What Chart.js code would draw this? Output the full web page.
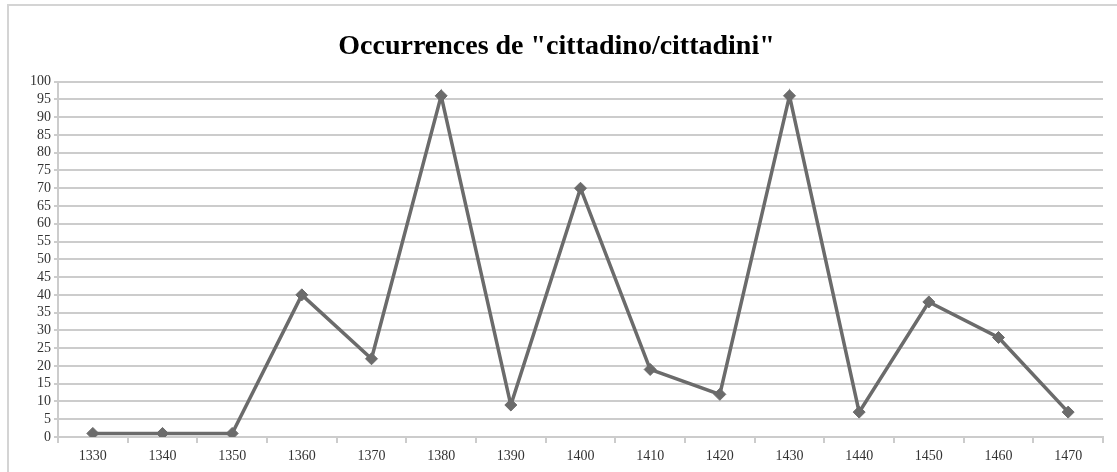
<!DOCTYPE html>
<html>
<head>
<meta charset="utf-8">
<script src="https://cdn.jsdelivr.net/npm/chart.js@4/dist/chart.umd.min.js"></script>
<style>
  html, body { margin: 0; padding: 0; background: #fff; overflow: hidden; }
  #wrap { position: relative; width: 1117px; height: 472px; }
  #frame { position: absolute; left: 7px; top: 4px; width: 1200px; height: 600px;
           border: 2px solid #d4d4d4; box-sizing: border-box; pointer-events: none; }
  canvas { position: absolute; left: 0; top: 0; }
</style>
</head>
<body>
<div id="wrap">
  <canvas id="c" width="1117" height="472"></canvas>
  <div id="frame"></div>
</div>
<script>
const decades = ['1330','1340','1350','1360','1370','1380','1390','1400','1410','1420','1430','1440','1450','1460','1470'];
const occurrences = [1, 1, 1, 40, 22, 96, 9, 70, 19, 12, 96, 7, 38, 28, 7];
const yTicks = [0,5,10,15,20,25,30,35,40,45,50,55,60,65,70,75,80,85,90,95,100];

const lineColor = '#6b6b6b';
const gridColor = '#cccccc';

new Chart(document.getElementById('c'), {
  type: 'line',
  data: {
    labels: decades,
    datasets: [{
      data: occurrences,
      borderColor: lineColor,
      backgroundColor: lineColor,
      borderWidth: 3.5,
      pointStyle: 'rectRot',
      pointRadius: 6,
      pointBorderWidth: 1,
      tension: 0
    }]
  },
  options: {
    responsive: false,
    animation: false,
    layout: { padding: { left: 10, right: 14, top: 0, bottom: 0 } },
    plugins: {
      legend: { display: false },
      tooltip: { enabled: false },
      title: {
        display: true,
        text: 'Occurrences de "cittadino/cittadini"',
        color: '#000',
        font: { family: 'Liberation Serif', size: 28, weight: 'bold' },
        padding: { top: 30, bottom: 18 }
      }
    },
    scales: {
      x: {
        offset: true,
        grid: { offset: true, drawOnChartArea: false, drawTicks: true, tickLength: 6, color: gridColor, lineWidth: 2 },
        border: { color: gridColor, width: 2 },
        ticks: { color: '#333', font: { family: 'Liberation Serif', size: 14 }, padding: 5, maxRotation: 0, autoSkip: false },
        afterFit: s => { s.height = 35; }
      },
      y: {
        min: 0, max: 100,
        afterBuildTicks: s => { s.ticks = yTicks.map(v => ({ value: v })); },
        grid: { color: gridColor, lineWidth: 2, tickLength: 4 },
        border: { color: gridColor, width: 2 },
        ticks: { color: '#333', font: { family: 'Liberation Serif', size: 14 }, padding: 3, autoSkip: false },
        afterFit: s => { s.width = 48; }
      }
    }
  }
});
</script>
</body>
</html>
